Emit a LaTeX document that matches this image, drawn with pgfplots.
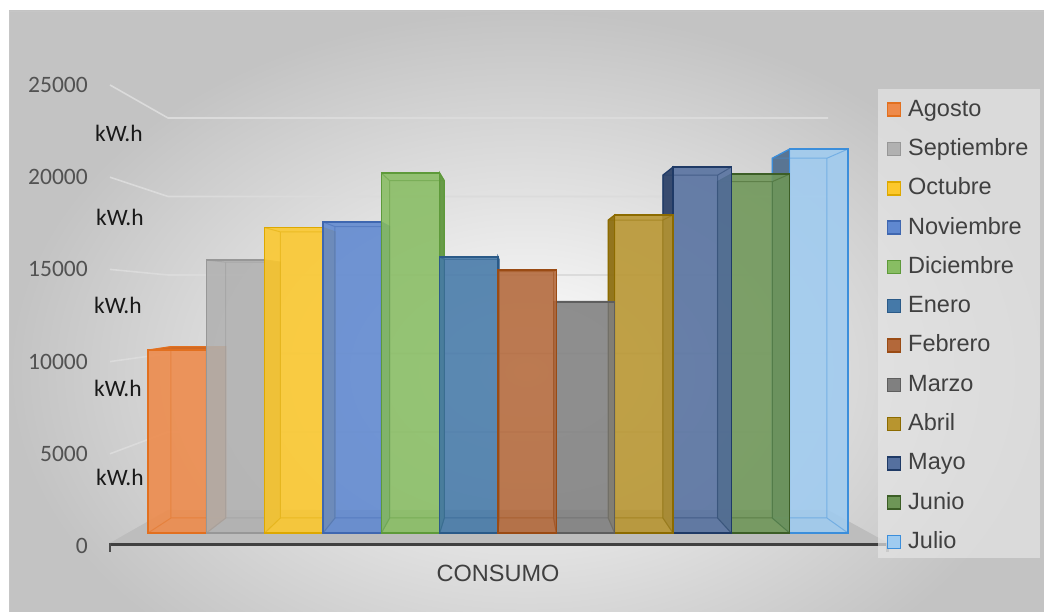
\documentclass[border=0pt]{standalone}
\usepackage{pgfplots}
\pgfplotsset{compat=1.18}
\usepackage{fontspec}
\setmainfont{Liberation Sans}
\newfontfamily\calibri{Carlito}

\newcommand\chartfont{\fontsize{23.5bp}{28bp}\selectfont}

% front face / edge / side face colours of the twelve months
\definecolor{agoF}{HTML}{EE8A4A}\definecolor{agoE}{HTML}{E2701F}\definecolor{agoS}{HTML}{D06A25}
\definecolor{sepF}{HTML}{B1B1B1}\definecolor{sepE}{HTML}{979797}\definecolor{sepS}{HTML}{8C8C8C}
\definecolor{octF}{HTML}{FCC82C}\definecolor{octE}{HTML}{DDA800}\definecolor{octS}{HTML}{D9A410}
\definecolor{novF}{HTML}{5F88D0}\definecolor{novE}{HTML}{3F67B0}\definecolor{novS}{HTML}{3E62A8}
\definecolor{dicF}{HTML}{88BD63}\definecolor{dicE}{HTML}{5E9A3A}\definecolor{dicS}{HTML}{5E963C}
\definecolor{eneF}{HTML}{4579A8}\definecolor{eneE}{HTML}{2A5A88}\definecolor{eneS}{HTML}{2C5A85}
\definecolor{febF}{HTML}{B3683A}\definecolor{febE}{HTML}{9A4B14}\definecolor{febS}{HTML}{8A4515}
\definecolor{marF}{HTML}{808080}\definecolor{marE}{HTML}{5E5E5E}\definecolor{marS}{HTML}{5A5A5A}
\definecolor{abrF}{HTML}{B8952F}\definecolor{abrE}{HTML}{8C6B00}\definecolor{abrS}{HTML}{8C6C0C}
\definecolor{mayF}{HTML}{55709F}\definecolor{mayE}{HTML}{1F3A66}\definecolor{mayS}{HTML}{2A3F66}
\definecolor{junF}{HTML}{6E9657}\definecolor{junE}{HTML}{3C5E26}\definecolor{junS}{HTML}{405E2C}
\definecolor{julF}{HTML}{9FCBF0}\definecolor{julE}{HTML}{3B8EDB}\definecolor{julS}{HTML}{4F6E8E}

% perspective: vanishing point (axis units) and depth ratio of the back faces
\def\vpx{5.757}
\def\vpy{13600}
\def\vpr{0.937}

% one column as a box: side face, top face, front face and the edges behind it
% #1 position, #2 value, #3 front colour, #4 edge colour, #5 side colour
\newcommand\cuboid[5]{%
  \edef\xl{\fpeval{#1-0.5}}%
  \edef\xr{\fpeval{#1+0.5}}%
  \edef\bxl{\fpeval{\vpx+\vpr*(\xl-\vpx)}}%
  \edef\bxr{\fpeval{\vpx+\vpr*(\xr-\vpx)}}%
  \edef\btop{\fpeval{\vpy+\vpr*(#2-\vpy)}}%
  \edef\bbot{\fpeval{\vpy*(1-\vpr)}}%
  \edef\doit{%
    \ifnum\fpeval{\xr<\vpx}=1
      \noexpand\addplot[forget plot,fill=#5,fill opacity=0.92,draw=#4,line width=1.2bp]
        coordinates {(\xr,0) (\xr,#2) (\bxr,\btop) (\bxr,\bbot) (\xr,0)};%
    \fi
    \ifnum\fpeval{\xl>\vpx}=1
      \noexpand\addplot[forget plot,fill=#5,fill opacity=0.92,draw=#4,line width=1.2bp]
        coordinates {(\xl,0) (\xl,#2) (\bxl,\btop) (\bxl,\bbot) (\xl,0)};%
    \fi
    \ifnum\fpeval{#2<\vpy}=1
      \noexpand\addplot[forget plot,fill=#5,draw=#4,line width=1.2bp]
        coordinates {(\xl,#2) (\xr,#2) (\bxr,\btop) (\bxl,\btop) (\xl,#2)};%
    \fi
    \noexpand\addplot[forget plot,ybar,bar width=1,bar shift=0pt,fill=#3,fill opacity=0.88,
        draw=#4,line width=1.6bp] coordinates {(#1,#2)};%
    \noexpand\addplot[forget plot,draw=#4,draw opacity=0.45,line width=1bp,unbounded coords=jump]
      coordinates {(\bxl,\bbot) (\bxl,\btop) (\bxr,\btop) (\bxr,\bbot) (\bxl,\bbot) (nan,nan)
        (\xl,0) (\bxl,\bbot) (nan,nan) (\xr,0) (\bxr,\bbot) (nan,nan)
        (\xl,#2) (\bxl,\btop) (nan,nan) (\xr,#2) (\bxr,\btop)};%
  }%
  \doit
}

\begin{document}
\begin{tikzpicture}[x=1bp,y=1bp]
\useasboundingbox (0,0) rectangle (1044,612);
\fill[white] (0,0) rectangle (1044,612);

% chart area with its radial gradient
\begin{scope}
  \clip (9,0) rectangle (1044,601);
  \shade[inner color=white, outer color=gray!47] (9,-120) rectangle (1044,601);
\end{scope}
\draw[gray!45, line width=1.2] (9.6,-2) -- (9.6,600.6) -- (1046,600.6);

% back wall gridlines and their run along the side wall
\foreach \k in {1,...,5}{
  \pgfmathsetmacro\yf{66+\k*92.2}
  \pgfmathsetmacro\yb{101.5+\k*78.5}
  \draw[gray!28, line width=1.6] (110,\yf) -- (168,\yb) -- (828,\yb);
}

% floor and horizontal axis
\fill[gray!52] (110,69) -- (168,102) -- (828,102) -- (888,69) -- cycle;
\draw[black!75, line width=3.5] (110,67.5) -- (888,67.5);
\draw[black!70, line width=3] (110,69) -- (110,60);
\draw[black!45, line width=3] (887,69) -- (887,60);

% legend panel
\fill[white!90!black, opacity=0.7] (878,54) rectangle (1040,523);

% value labels on the side wall
\begin{axis}[
  at={(110bp,66bp)}, anchor=south west, scale only axis,
  width=10bp, height=461bp,
  xmin=0, xmax=1, ymin=0, ymax=25000,
  axis line style={draw=none}, major tick length=0pt,
  scaled y ticks=false,
  xtick=\empty,
  ytick={0,5000,10000,15000,20000,25000},
  yticklabels={0,5000,10000,15000,20000,25000},
  yticklabel style={font=\calibri\chartfont, text=black!68, anchor=east, inner sep=0pt, xshift=-22bp},
]
\end{axis}

\begin{axis}[
  at={(148bp,79bp)}, anchor=south west, scale only axis,
  width=700bp, height=437.5bp,
  xmin=-0.5, xmax=11.5, ymin=0, ymax=25000,
  hide axis, clip=false,
  legend cell align=left,
  legend image code/.code={\draw[#1, line width=1.5bp] (0bp,-6bp) rectangle (13bp,7bp);},
  legend style={at={(1.055,0.9966)}, anchor=north west, draw=none, fill=none,
    font=\chartfont, text=black!75, row sep=13.3bp, inner sep=0pt,
    nodes={inner sep=2bp, text height=17bp, text depth=5bp},
    /tikz/every odd column/.append style={column sep=5bp}},
]
\addlegendimage{fill=agoF, draw=agoE}\addlegendentry{Agosto}
\addlegendimage{fill=sepF, draw=sepE}\addlegendentry{Septiembre}
\addlegendimage{fill=octF, draw=octE}\addlegendentry{Octubre}
\addlegendimage{fill=novF, draw=novE}\addlegendentry{Noviembre}
\addlegendimage{fill=dicF, draw=dicE}\addlegendentry{Diciembre}
\addlegendimage{fill=eneF, draw=eneE}\addlegendentry{Enero}
\addlegendimage{fill=febF, draw=febE}\addlegendentry{Febrero}
\addlegendimage{fill=marF, draw=marE}\addlegendentry{Marzo}
\addlegendimage{fill=abrF, draw=abrE}\addlegendentry{Abril}
\addlegendimage{fill=mayF, draw=mayE}\addlegendentry{Mayo}
\addlegendimage{fill=junF, draw=junE}\addlegendentry{Junio}
\addlegendimage{fill=julF, draw=julE}\addlegendentry{Julio}

% columns drawn from the outside in, so nearer ones cover the side faces
\cuboid{0}{10450}{agoF}{agoE}{agoS}
\cuboid{11}{21940}{julF}{julE}{julS}
\cuboid{1}{15600}{sepF}{sepE}{sepS}
\cuboid{10}{20510}{junF}{junE}{junS}
\cuboid{2}{17450}{octF}{octE}{octS}
\cuboid{9}{20910}{mayF}{mayE}{mayS}
\cuboid{3}{17770}{novF}{novE}{novS}
\cuboid{8}{18170}{abrF}{abrE}{abrS}
\cuboid{4}{20570}{dicF}{dicE}{dicS}
\cuboid{7}{13200}{marF}{marE}{marS}
\cuboid{5}{15770}{eneF}{eneE}{eneS}
\cuboid{6}{15030}{febF}{febE}{febS}
\end{axis}

% unit labels beside the values
\begin{scope}[font=\calibri\chartfont, text=black!90]
  \node[anchor=west, inner sep=0pt] at (95,479) {kW.h};
  \node[anchor=west, inner sep=0pt] at (96,395) {kW.h};
  \node[anchor=west, inner sep=0pt] at (94,307) {kW.h};
  \node[anchor=west, inner sep=0pt] at (94,224) {kW.h};
  \node[anchor=west, inner sep=0pt] at (96,135) {kW.h};
\end{scope}

\node[font=\chartfont, text=black!75, inner sep=0pt] at (498,38.5) {CONSUMO};
\end{tikzpicture}
\end{document}
